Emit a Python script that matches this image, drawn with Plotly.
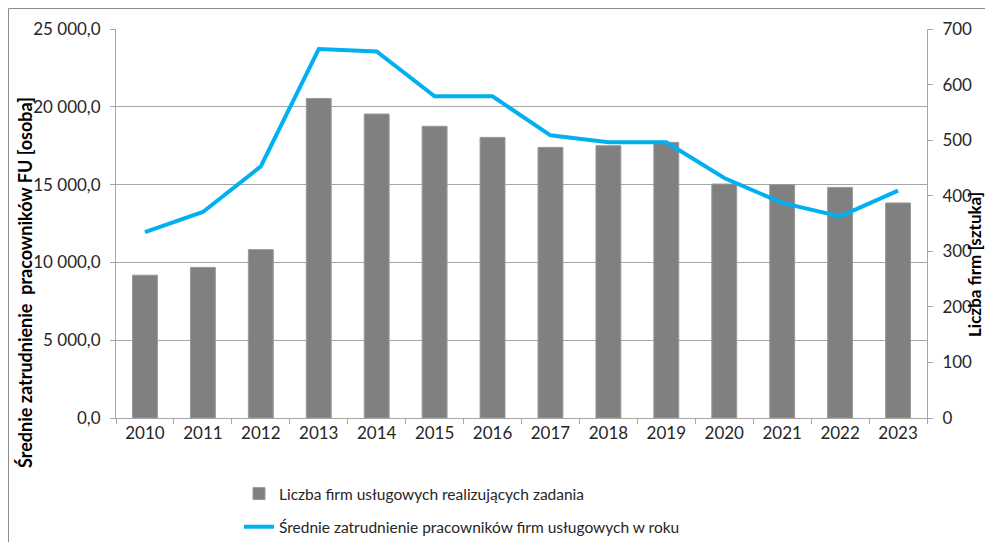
import plotly.graph_objects as go

years = ["2010", "2011", "2012", "2013", "2014", "2015", "2016",
         "2017", "2018", "2019", "2020", "2021", "2022", "2023"]
firms = [257, 271, 303, 575, 547, 525, 505, 487, 490, 496, 421, 420, 415, 387]
employment = [11950, 13240, 16170, 23715, 23560, 20670, 20670,
              18165, 17715, 17715, 15425, 13820, 12960, 14610]

bar_name = "Liczba firm usługowych realizujących zadania"
line_name = "Średnie zatrudnienie pracowników firm usługowych w roku"
left_title = "Średnie zatrudnienie  pracowników FU [osoba]"
right_title = "Liczba firm [sztuka]"

FONT = "Lato"
TXT = "#262626"
AX = "#A6A6A6"

# page body has an 8px margin; figure coordinates = reference - 8
W, H = 977, 534
L, R, T, B = 108, 58, 21, 124
PW, PH = W - L - R, H - T - B


def px(xr):
    return (xr - 8 - L) / PW


def py(yr):
    return (H - B - (yr - 8)) / PH


fig = go.Figure()
fig.add_trace(go.Bar(
    x=years, y=firms, name=bar_name, yaxis="y", legendgroup="a",
    marker=dict(color="#808080", line=dict(color="#9A9A9A", width=1)),
))
fig.add_trace(go.Scatter(
    x=years, y=employment, name=line_name, yaxis="y2", legendgroup="b",
    mode="lines", line=dict(color="#00B0F0", width=4),
))

fig.update_layout(
    width=W, height=H,
    margin=dict(l=L, r=R, t=T, b=B, autoexpand=False),
    paper_bgcolor="white", plot_bgcolor="white",
    separators=", ",
    font=dict(family=FONT, size=17, color=TXT),
    bargap=0.57,
    showlegend=True,
    legend=dict(
        xref="container", yref="container",
        x=231 / W, xanchor="left", y=1 - 469 / H, yanchor="top",
        font=dict(family=FONT, size=15.5, color=TXT),
        itemwidth=30, tracegroupgap=10, traceorder="grouped",
        bgcolor="rgba(0,0,0,0)",
    ),
    xaxis=dict(
        type="category", showline=True, linecolor=AX, linewidth=1,
        ticks="outside", tickson="boundaries", ticklen=5, tickcolor=AX,
        showgrid=False, tickfont=dict(size=17, color=TXT),
    ),
    yaxis=dict(
        side="right", range=[0, 700], dtick=100, showgrid=False,
        showline=True, linecolor=AX, linewidth=1,
        ticks="outside", ticklen=5, tickcolor=AX, ticklabelstandoff=6,
        tickfont=dict(size=17, color=TXT), zeroline=False,
    ),
    yaxis2=dict(
        overlaying="y", side="left", range=[0, 25000], dtick=5000,
        tickformat=",.1f", showgrid=True, gridcolor=AX, gridwidth=1,
        showline=True, linecolor=AX, linewidth=1,
        ticks="outside", ticklen=5, tickcolor=AX, ticklabelstandoff=6,
        tickfont=dict(size=17, color=TXT), zeroline=False,
    ),
    annotations=[
        dict(text="<b>" + left_title + "</b>", textangle=-90,
             xref="paper", yref="paper", x=px(25), y=py(283),
             xanchor="center", yanchor="middle", showarrow=False,
             font=dict(family=FONT, size=18, color="black")),
        dict(text="<b>" + right_title + "</b>", textangle=-90,
             xref="paper", yref="paper", x=px(974), y=py(265),
             xanchor="center", yanchor="middle", showarrow=False,
             font=dict(family=FONT, size=17, color="black")),
    ],
    shapes=[
        dict(type="line", xref="paper", yref="paper",
             x0=px(8.5), x1=px(1000), y0=py(8.5), y1=py(8.5),
             line=dict(color="#8C8C8C", width=1)),
        dict(type="line", xref="paper", yref="paper",
             x0=px(8.5), x1=px(8.5), y0=py(8.5), y1=py(560),
             line=dict(color="#8C8C8C", width=1)),
    ],
)

fig.write_html("out.html")
